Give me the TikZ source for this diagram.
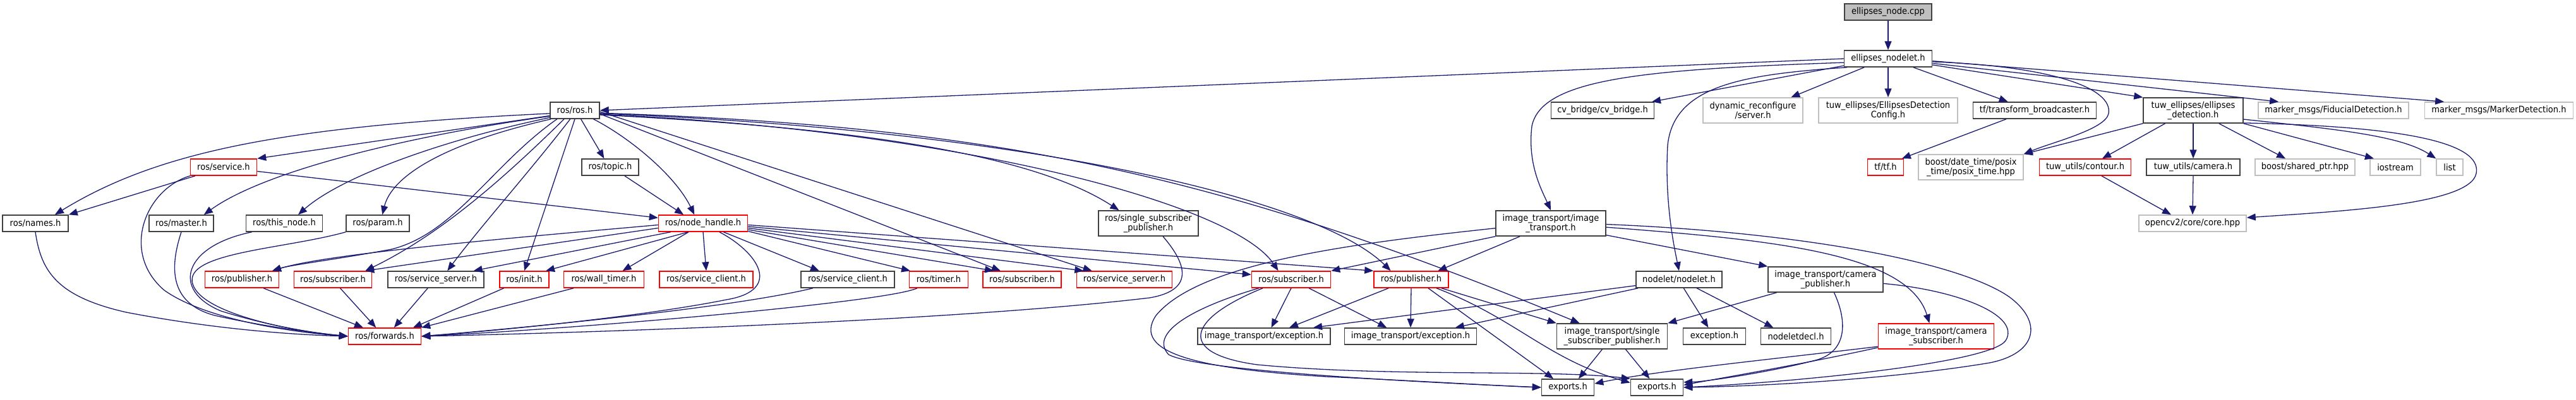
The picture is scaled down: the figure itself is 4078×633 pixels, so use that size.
\documentclass[tikz,border=0pt]{standalone}
\usepackage{fontspec}
\newfontfamily\lblfont[FakeStretch=0.92]{DejaVu Sans}
\usetikzlibrary{arrows.meta}
\definecolor{edgeblue}{HTML}{191970}
\definecolor{boxred}{HTML}{FF0000}
\definecolor{boxgray}{HTML}{BFBFBF}
\definecolor{boxblack}{HTML}{404040}
\tikzset{
  box/.style={draw=boxblack, line width=0.75pt, fill=white, inner sep=0pt, minimum height=13pt, align=center, font=\lblfont\fontsize{7.1}{7.5}\selectfont},
  rbox/.style={box, draw=boxred},
  gbox/.style={box, draw=boxgray},
  tall/.style={minimum height=20pt},
  e/.style={draw=edgeblue, line width=0.65pt, -{Triangle[length=7pt,width=5.5pt]}},
}
\begin{document}
\begin{tikzpicture}[x=0.5pt,y=-0.5pt]
\useasboundingbox (0,0) rectangle (4078,633);
% top
\node[box, fill=boxgray, minimum width=69pt] (cpp) at (2989,19) {ellipses\_node.cpp};
\node[box, minimum width=69.5pt] (nodelet) at (2989,93) {ellipses\_nodelet.h};
% row 175
\node[box, minimum width=39pt] (ros) at (910,175) {ros/ros.h};
\node[box, minimum width=81.5pt] (cvb) at (2537,175) {cv\_bridge/cv\_bridge.h};
\node[gbox, tall, minimum width=79pt] (dyn) at (2775,175) {dynamic\_reconfigure\\/server.h};
\node[gbox, tall, minimum width=110pt] (cfg) at (2989,175) {tuw\_ellipses/EllipsesDetection\\Config.h};
\node[box, minimum width=97.5pt] (tfb) at (3221,175) {tf/transform\_broadcaster.h};
\node[box, tall, minimum width=79pt] (ted) at (3472,175) {tuw\_ellipses/ellipses\\\_detection.h};
\node[gbox, minimum width=119pt] (fid) at (3694,175) {marker\_msgs/FiducialDetection.h};
\node[gbox, minimum width=117.5pt] (mkr) at (3956,175) {marker\_msgs/MarkerDetection.h};
% row 265
\node[rbox, minimum width=52.5pt] (srv) at (354,265) {ros/service.h};
\node[box, minimum width=45pt] (topic) at (966,265) {ros/topic.h};
\node[rbox, minimum width=28.5pt] (tf) at (2985,265) {tf/tf.h};
\node[gbox, tall, minimum width=83pt] (posix) at (3120,265) {boost/date\_time/posix\\\_time/posix\_time.hpp};
\node[rbox, minimum width=72.5pt] (contour) at (3301,265) {tuw\_utils/contour.h};
\node[box, minimum width=74pt] (cam) at (3472,265) {tuw\_utils/camera.h};
\node[gbox, minimum width=79pt] (shp) at (3649,265) {boost/shared\_ptr.hpp};
\node[gbox, minimum width=40pt] (ios) at (3792,265) {iostream};
\node[gbox, minimum width=21pt] (lst) at (3878,265) {list};
% row 354
\node[box, minimum width=52pt] (names) at (56,354) {ros/names.h};
\node[box, minimum width=51pt] (master) at (287,354) {ros/master.h};
\node[box, minimum width=60.5pt] (thisn) at (450,354) {ros/this\_node.h};
\node[box, minimum width=50pt] (param) at (598,354) {ros/param.h};
\node[rbox, minimum width=70.5pt] (nh) at (1113,354) {ros/node\_handle.h};
\node[box, tall, minimum width=79pt] (ssp) at (1818,354) {ros/single\_subscriber\\\_publisher.h};
\node[box, tall, minimum width=87pt] (it) at (2455,354) {image\_transport/image\\\_transport.h};
\node[gbox, minimum width=85pt] (core) at (3471,354) {opencv2/core/core.hpp};
% row 443
\node[rbox, minimum width=58.5pt] (pub1) at (383,443) {ros/publisher.h};
\node[rbox, minimum width=61.5pt] (sub1) at (527,443) {ros/subscriber.h};
\node[box, minimum width=76pt] (ssrv1) at (690,443) {ros/service\_server.h};
\node[rbox, minimum width=39pt] (init) at (830,443) {ros/init.h};
\node[rbox, minimum width=63.5pt] (wall) at (956,443) {ros/wall\_timer.h};
\node[rbox, minimum width=74pt] (scl1) at (1118,443) {ros/service\_client.h};
\node[box, minimum width=74pt] (scl2) at (1342,443) {ros/service\_client.h};
\node[rbox, minimum width=46.5pt] (timer) at (1486,443) {ros/timer.h};
\node[rbox, minimum width=62pt] (sub2) at (1618,443) {ros/subscriber.h};
\node[rbox, minimum width=75.5pt] (ssrv2) at (1780,443) {ros/service\_server.h};
\node[rbox, minimum width=62.5pt] (sub3) at (2044,443) {ros/subscriber.h};
\node[rbox, minimum width=59pt] (pub2) at (2234,443) {ros/publisher.h};
\node[box, minimum width=68pt] (nod) at (2658,443) {nodelet/nodelet.h};
\node[box, tall, minimum width=91pt] (cpub) at (2890,443) {image\_transport/camera\\\_publisher.h};
% row 533
\node[rbox, minimum width=57.5pt] (fwd) at (609,533) {ros/forwards.h};
\node[box, minimum width=105pt] (exc1) at (2001,533) {image\_transport/exception.h};
\node[box, minimum width=104.5pt] (exc2) at (2233,533) {image\_transport/exception.h};
\node[box, tall, minimum width=87.5pt] (itssp) at (2552,533) {image\_transport/single\\\_subscriber\_publisher.h};
\node[box, minimum width=49.5pt] (exc) at (2714,533) {exception.h};
\node[box, minimum width=55.5pt] (decl) at (2843,533) {nodeletdecl.h};
\node[rbox, tall, minimum width=91.5pt] (csub) at (3065,533) {image\_transport/camera\\\_subscriber.h};
% row 614
\node[box, minimum width=41.5pt] (exp1) at (2482,614) {exports.h};
\node[box, minimum width=41.5pt] (exp2) at (2623,614) {exports.h};

% ---- edges: ellipses
\draw[e] (cpp) -- (nodelet);
\draw[e] (nodelet.west) -- (ros.east);
\draw[e] (nodelet.189) -- (cvb.10);
\draw[e] (nodelet.185) .. controls (2600,110) and (2440,125) .. (2425,200) .. controls (2418,260) and (2440,300) .. (it.north);
\draw[e] (nodelet.192) .. controls (2760,118) and (2650,135) .. (2640,230) .. controls (2635,320) and (2650,390) .. (nod.north);
\draw[e] (nodelet.200) -- (dyn.19);
\draw[e] (nodelet.south) -- (cfg.north);
\draw[e] (nodelet.-19) -- (tfb.162);
\draw[e] (nodelet.-8) -- (ted.north west);
\draw[e] (nodelet.-6) -- (fid.171);
\draw[e] (nodelet.-3) -- (mkr.171);
\draw[e] (nodelet.-4) .. controls (3250,105) and (3345,140) .. (3338,180) .. controls (3333,205) and (3250,225) .. (posix.north east);
\draw[e] (tfb.197) -- (tf.28);
\draw[e] (ted.south west) -- (posix.north east);
\draw[e] (ted.205) -- (contour.27);
\draw[e] (ted.south) -- (cam.north);
\draw[e] (ted.-27) -- (shp.156);
\draw[e] (ted.south east) -- (ios.158);
\draw[e] (ted.-10) .. controls (3700,205) and (3800,215) .. (lst.north west);
\draw[e] (ted.-14) .. controls (3800,200) and (3930,225) .. (3920,275) .. controls (3910,325) and (3700,335) .. (core.6);
\draw[e] (contour.-28) -- (core.158);
\draw[e] (cam.south) -- (core.north);
% ---- ros.h left
\draw[e] (ros.192) -- (srv.north east);
\draw[e] (ros.187) .. controls (450,200) and (250,240) .. (names.24);
\draw[e] (ros.193) .. controls (650,215) and (420,270) .. (master.21);
\draw[e] (ros.196) .. controls (700,222) and (540,280) .. (thisn.32);
\draw[e] (ros.200) .. controls (700,228) and (620,280) .. (param.62);
\draw[e] (ros.206) .. controls (780,260) and (720,370) .. (620,395) .. controls (540,410) and (460,420) .. (pub1.16);
\draw[e] (ros.219) .. controls (800,280) and (700,370) .. (sub1.15);
\draw[e] (ros.242) .. controls (840,270) and (760,360) .. (ssrv1.37);
\draw[e] (ros.south) -- (init.north);
\draw[e] (ros.-55) -- (topic.125);
\draw[e] (topic.-31) -- (nh.156);
\draw[e] (ros.-25) .. controls (1000,220) and (1070,280) .. (nh.135);
\draw[e] (srv.-7) -- (nh.173);
\draw[e] (srv.197) -- (names.north east);
% ---- into forwards
\draw[e] (srv.south west) .. controls (230,300) and (190,400) .. (260,460) .. controls (330,510) and (480,528) .. (fwd.west);
\draw[e] (names.south) .. controls (65,430) and (90,470) .. (200,495) .. controls (330,520) and (450,530) .. (fwd.west);
\draw[e] (master.south) .. controls (270,420) and (265,480) .. (340,500) .. controls (420,518) and (500,528) .. (fwd.west);
\draw[e] (thisn.195) .. controls (290,390) and (270,460) .. (350,493) .. controls (430,518) and (500,528) .. (fwd.west);
\draw[e] (param.south west) .. controls (450,395) and (290,400) .. (305,450) .. controls (320,500) and (480,527) .. (fwd.west);
\draw[e] (pub1.-22) -- (fwd.158);
\draw[e] (sub1.-50) -- (fwd.135);
\draw[e] (ssrv1.227) -- (fwd.43);
\draw[e] (init.203) -- (fwd.17);
\draw[e] (wall.196) -- (fwd.north east);
\draw[e] (nh.-28) .. controls (1200,400) and (1240,460) .. (1150,475) .. controls (1000,505) and (750,527) .. (fwd.east);
\draw[e] (scl2.194) .. controls (1150,490) and (800,522) .. (fwd.east);
\draw[e] (timer.202) .. controls (1400,480) and (900,522) .. (fwd.east);
\draw[e] (ssp.-42) .. controls (1880,420) and (1890,460) .. (1820,472) .. controls (1500,510) and (900,528) .. (fwd.east);
% ---- node_handle
\draw[e] (nh.182) .. controls (800,378) and (520,402) .. (pub1.16);
\draw[e] (nh.186) -- (sub1.15);
\draw[e] (nh.195) -- (ssrv1.13);
\draw[e] (nh.210) -- (init.22);
\draw[e] (nh.211) -- (wall.25);
\draw[e] (nh.south) -- (scl1.north);
\draw[e] (nh.-23) -- (scl2.163);
\draw[e] (nh.-10) -- (timer.163);
\draw[e] (nh.-8) -- (sub2.163);
\draw[e] (nh.-6) -- (ssrv2.168);
\draw[e] (nh.-4) -- (sub3.173);
\draw[e] (nh.-2) -- (pub2.north west);
% ---- ros.h right
\draw[e] (ros.-8) -- (sub2.158);
\draw[e] (ros.-3) -- (ssrv2.165);
\draw[e] (ros.-10) .. controls (1300,200) and (1620,235) .. (ssp.156);
\draw[e] (ros.-9) .. controls (1500,205) and (1950,320) .. (sub3.146);
\draw[e] (ros.-7) .. controls (1600,205) and (2080,310) .. (pub2.157);
\draw[e] (ros.-6) .. controls (1600,200) and (1950,285) .. (itssp.158);
% ---- image_transport
\draw[e] (it.203) -- (pub2.18);
\draw[e] (it.south west) -- (sub3.north east);
\draw[e] (it.185) .. controls (2150,385) and (1900,415) .. (1830,500) .. controls (1790,560) and (1900,585) .. (2100,597) .. controls (2250,604) and (2380,612) .. (exp1.west);
\draw[e] (sub3.195) .. controls (1880,490) and (1820,530) .. (1850,562) .. controls (1900,590) and (2300,608) .. (exp1.west);
\draw[e] (sub3.197) .. controls (1880,505) and (1860,560) .. (1990,578) .. controls (2200,598) and (2450,585) .. (exp2.north west);
\draw[e] (sub3.south) -- (exc1.50);
\draw[e] (sub3.-26) -- (exc2.160);
\draw[e] (pub2.201) -- (exc1.19);
\draw[e] (pub2.south) -- (exc2.north);
\draw[e] (pub2.-16) -- (itssp.north west);
\draw[e] (pub2.-27) -- (exp1.149);
\draw[e] (pub2.-19) .. controls (2400,505) and (2450,570) .. (exp2.170);
\draw[e] (nod.188) -- (exc1.10);
\draw[e] (nod.192) -- (exc2.11);
\draw[e] (nod.-62) -- (exc.125);
\draw[e] (nod.-26) -- (decl.159);
\draw[e] (cpub.195) -- (itssp.north east);
\draw[e] (it.-12) -- (cpub.north west);
\draw[e] (it.-4) .. controls (2800,380) and (3020,400) .. (csub.117);
\draw[e] (it.-1) .. controls (2850,368) and (3100,415) .. (3180,470) .. controls (3235,510) and (3225,560) .. (3150,575) .. controls (3000,600) and (2800,612) .. (exp2.east);
\draw[e] (cpub.-4) .. controls (3100,460) and (3200,500) .. (3175,540) .. controls (3150,575) and (2850,605) .. (exp2.east);
\draw[e] (cpub.-57) .. controls (2925,510) and (2925,560) .. (2870,572) .. controls (2800,590) and (2700,605) .. (exp2.11);
\draw[e] (csub.190) .. controls (2800,570) and (2620,588) .. (exp1.8);
\draw[e] (csub.191) .. controls (2850,578) and (2720,600) .. (exp2.5);
\draw[e] (itssp.233) -- (exp1.39);
\draw[e] (itssp.-44) -- (exp2.130);
\end{tikzpicture}
\end{document}
